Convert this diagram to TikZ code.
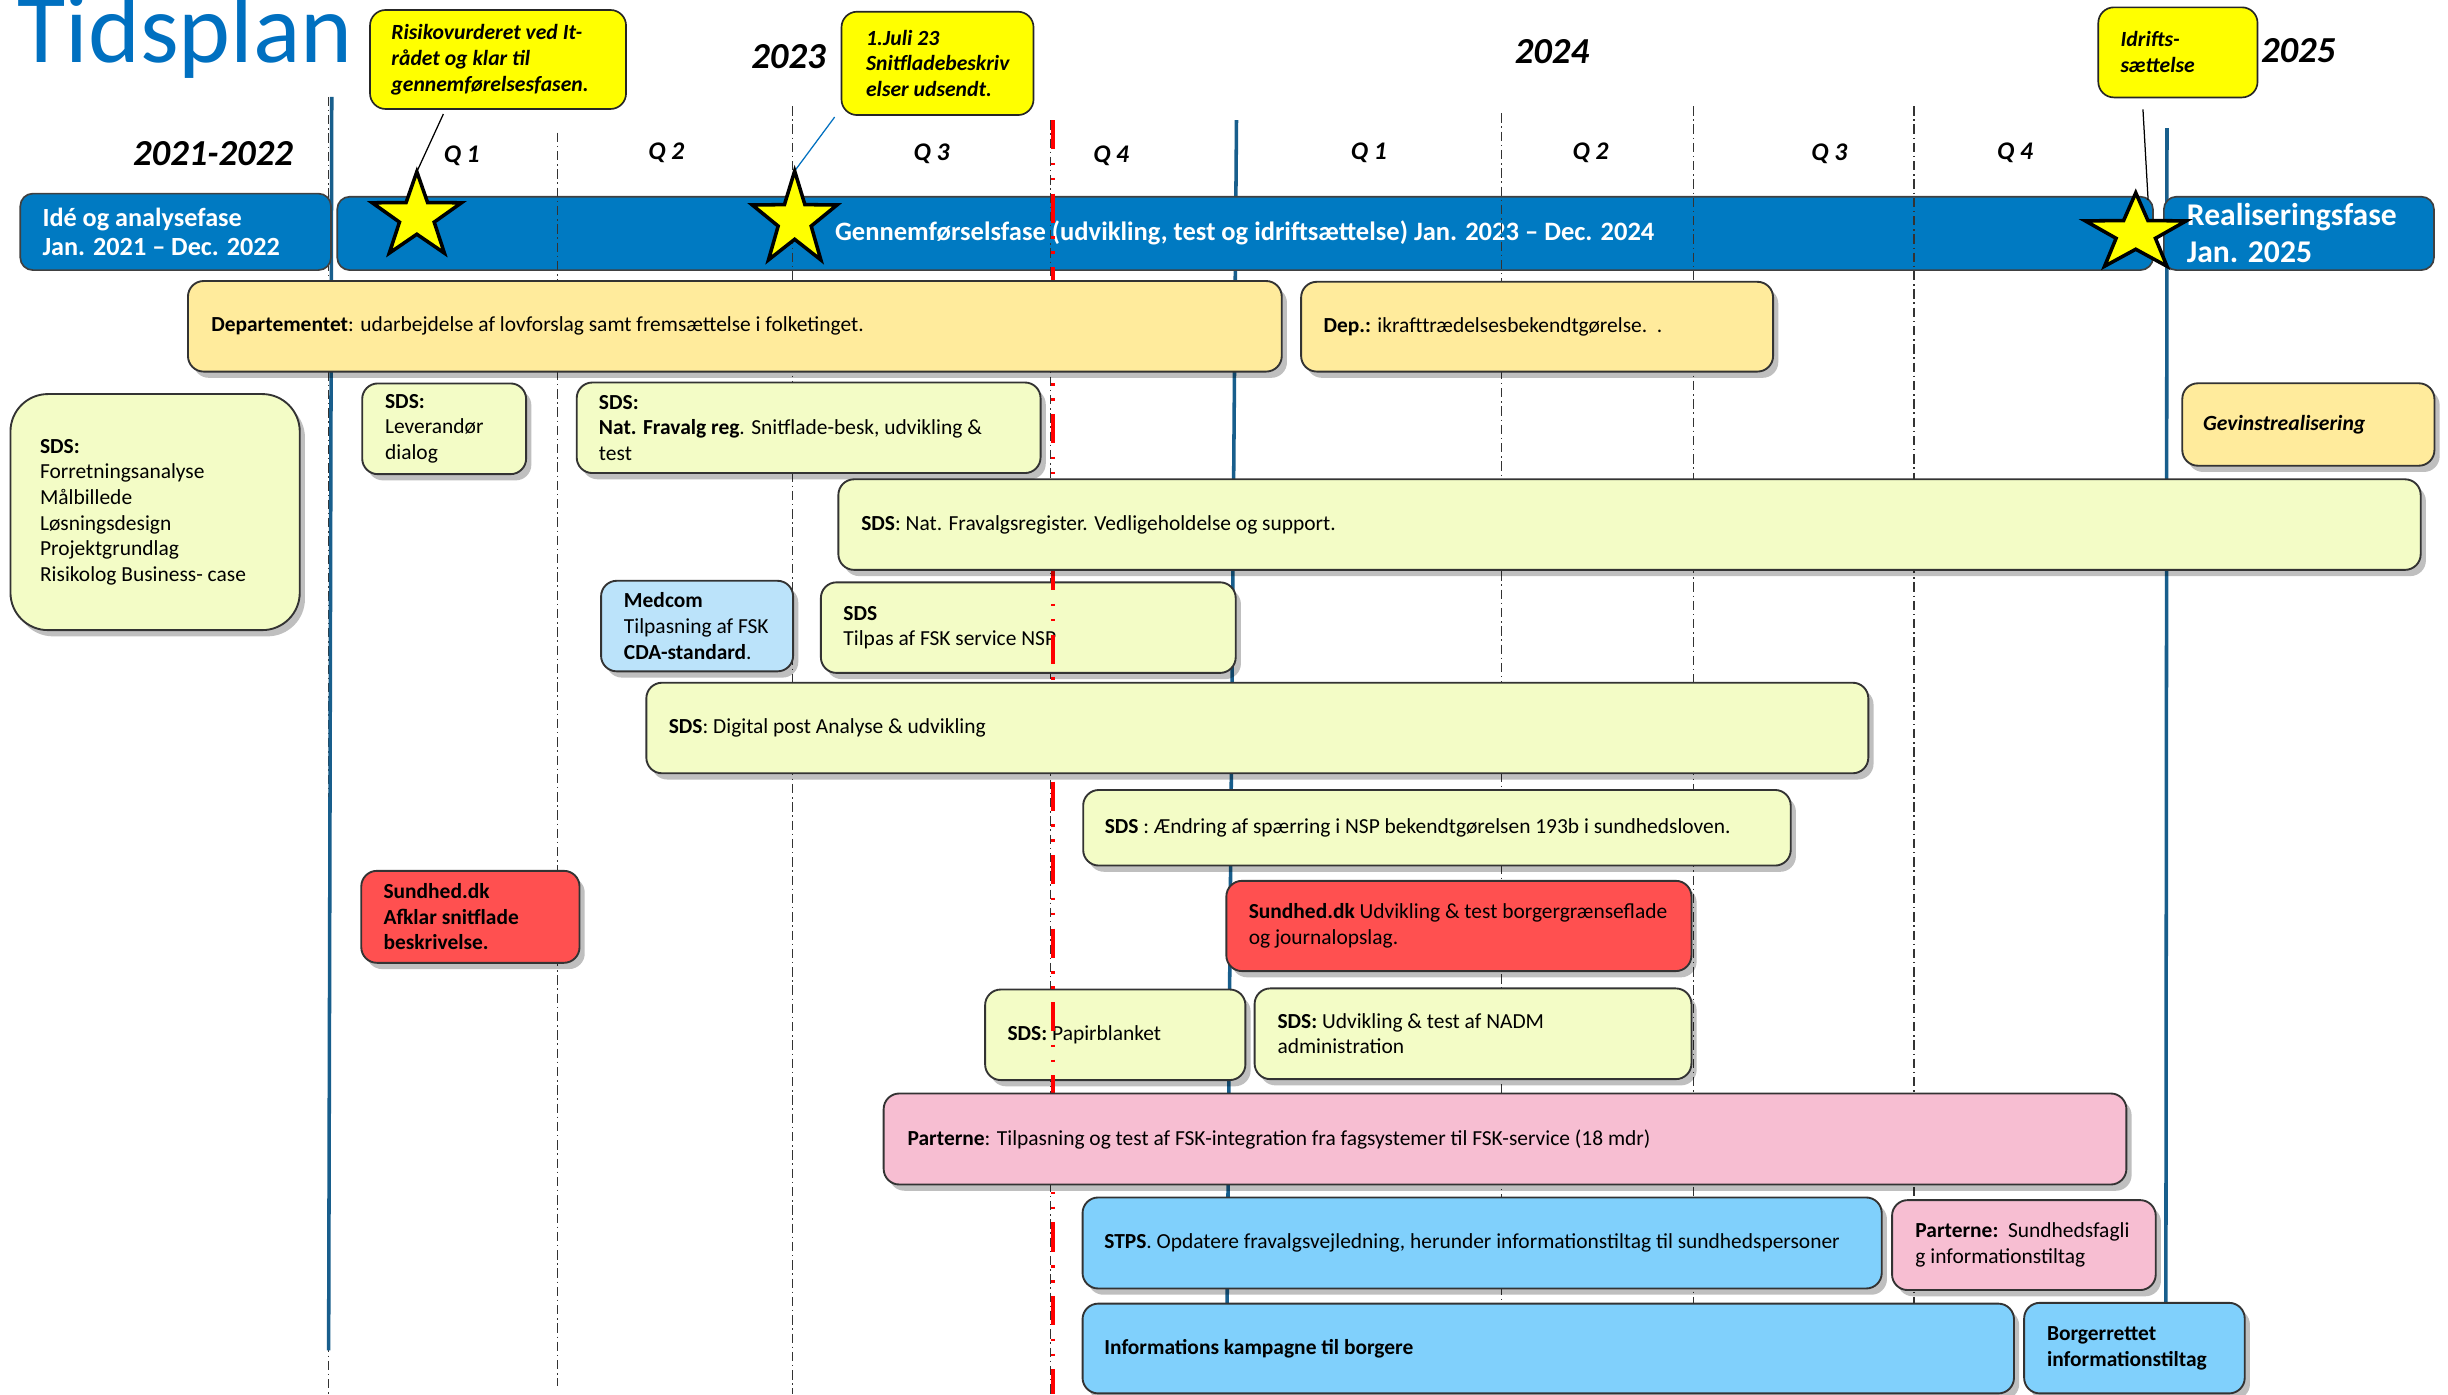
\documentclass[tikz,border=0pt]{standalone}
\usepackage{fontspec}
\setmainfont{Carlito}
\usetikzlibrary{shadows}
\definecolor{ttlblue}{RGB}{0,112,192}
\definecolor{phase}{RGB}{0,122,194}
\definecolor{vline}{RGB}{24,94,140}
\definecolor{depY}{RGB}{255,235,156}
\definecolor{sdsG}{RGB}{243,252,198}
\definecolor{medB}{RGB}{187,227,250}
\definecolor{redB}{RGB}{255,80,80}
\definecolor{pinkB}{RGB}{247,190,210}
\definecolor{skyB}{RGB}{128,208,252}
\definecolor{callY}{RGB}{255,255,0}
% name, box style, x1, y1, x2, y2, left padding, text style, text
\newcommand\abox[9]{%
  \node[#2, minimum width={(#5-#3)*0.75pt}, minimum height={(#6-#4)*0.75pt}] (#1) at ({(#3+#5)/2},{(#4+#6)/2}) {};
  \node[boxtext, #8, anchor=west] (#1-t) at ([xshift={#7*0.75pt}]#1.west) {#9};}
% name, cx, cy, rx(pt), ry(pt)
\newcommand\drawstar[5]{%
  \begin{scope}[shift={(#2,#3)}, x=#4, y=#5]
    \draw[starsty] (90:1) -- (126:0.39) -- (162:1) -- (198:0.39) -- (234:1) -- (270:0.39)
      -- (306:1) -- (342:0.39) -- (18:1) -- (54:0.39) -- cycle;
  \end{scope}}
\begin{document}
\begin{tikzpicture}[x=0.75pt,y=-0.75pt,
  boxtext/.style={align=left, inner sep=0pt, font=\fontsize{10.3}{12.3}\selectfont},
  actbox/.style={draw=black!80, line width=0.9pt, rounded corners=7.5pt, inner sep=0pt,
    drop shadow={shadow xshift=2.5pt, shadow yshift=-3pt, opacity=0.25, fill=black}},
  callout/.style={draw=black!85, line width=0.8pt, rounded corners=7.5pt, fill=callY, inner sep=0pt},
  phasebox/.style={draw=black!75, line width=0.8pt, rounded corners=6pt, fill=phase, inner sep=0pt},
  ddline/.style={draw=black!80, line width=0.6pt, dash pattern=on 4.5pt off 1.8pt on 0.7pt off 1.8pt},
  redline/.style={draw=red, line width=2pt, dash pattern=on 14pt off 6.5pt on 1.2pt off 6pt on 1.2pt off 6.4pt},
  bluev/.style={draw=vline, line width=1.7pt},
  yearlbl/.style={anchor=base west, inner sep=0pt, font=\fontsize{17.6}{20}\selectfont\bfseries\itshape},
  qlbl/.style={anchor=base west, inner sep=0pt, font=\fontsize{12.2}{14}\selectfont\bfseries\itshape},
  starsty/.style={fill=callY, draw=black, line width=1.7pt},
  callfont/.style={font=\fontsize{10.4}{12.4}\selectfont\bfseries\itshape},
  phasefont/.style={text=white, font=\fontsize{12.6}{14.25}\selectfont\bfseries},
  realfont/.style={text=white, font=\fontsize{15.2}{17.7}\selectfont\bfseries},
  conn/.style={draw=black, line width=0.6pt}
]
\useasboundingbox (0,0) rectangle (1568,893);
\fill[white] (0,0) rectangle (1568,893);

% dash-dot under the left blue line
\draw[ddline] (210.5,62) -- (210.5,893);
% blue verticals
\draw[bluev] (212.5,62) -- (210.5,865);
\draw[bluev] (792,77) -- (786,836);
\draw[bluev] (1388,82) -- (1387.3,834.5);

% phase boxes
\abox{ide}{phasebox}{13}{124}{212}{173}{14.5}{phasefont}{Idé og analysefase\\Jan. 2021 – Dec. 2022}
\node[phasebox, minimum width={(1379-216)*0.75pt}, minimum height={(173-126)*0.75pt}] (bar) at ({(216+1379)/2},{(126+173)/2}) {};
\node[anchor=base west, inner sep=0pt, text=white, font=\fontsize{12.75}{14}\selectfont\bfseries] (bartxt) at (534.6,154) {Gennemførselsfase (udvikling, test og idriftsættelse) Jan. 2023 – Dec. 2024};
\abox{real}{phasebox}{1386}{126}{1559}{173}{15}{realfont}{Realiseringsfase\\Jan. 2025}

% quarter dash-dot lines
\draw[ddline] (357,85) -- (357,888);
\draw[ddline] (507.7,68) -- (507.7,893);
\draw[ddline] (672.7,77) -- (672.7,893);
\draw[ddline] (961.5,72.6) -- (961.5,893);
\draw[ddline] (1084.5,68) -- (1084.5,893);
\draw[ddline] (1226,68) -- (1226,893);

% activity boxes (under the red line)
\abox{lev}{actbox, fill=sdsG}{232}{245.6}{337}{303.7}{15}{}{\textbf{SDS:}\\Leverandør\\dialog}
\abox{natfrav}{actbox, fill=sdsG}{369.4}{245}{666.5}{303}{14.6}{}{\textbf{SDS:}\\\textbf{Nat. Fravalg reg}. Snitflade-besk, udvikling \&\\test}
\abox{sdsleft}{actbox, fill=sdsG, rounded corners=18pt}{6.7}{252.4}{192}{403.6}{19.3}{}{\textbf{SDS:}\\Forretningsanalyse\\Målbillede\\Løsningsdesign\\Projektgrundlag\\Risikolog Business- case}
\abox{gevinst}{actbox, fill=depY}{1397.8}{245.5}{1559.3}{298.3}{13.7}{font=\fontsize{10.4}{12}\selectfont\bfseries\itshape}{Gevinstrealisering}
\abox{medcom}{actbox, fill=medB}{385}{372}{508}{430}{15}{}{\textbf{Medcom}\\Tilpasning af FSK\\\textbf{CDA-standard}.}
\abox{tilpas}{actbox, fill=sdsG}{525.8}{373}{791.5}{431}{14.8}{}{\textbf{SDS}\\Tilpas af FSK service NSP}
\abox{aendring}{actbox, fill=sdsG}{693.8}{506}{1147}{554.4}{14.2}{}{\textbf{SDS} : Ændring af spærring i NSP bekendtgørelsen 193b i sundhedsloven.}
\abox{sund1}{actbox, fill=redB}{231.4}{557.8}{371.2}{616.7}{14.6}{font=\fontsize{10.3}{12.3}\selectfont\bfseries}{Sundhed.dk\\Afklar snitflade\\beskrivelse.}
\abox{sund2}{actbox, fill=redB}{785.5}{564.2}{1083.4}{622}{14.7}{}{\textbf{Sundhed.dk} Udvikling \& test borgergrænseflade\\og journalopslag.}
\abox{papir}{actbox, fill=sdsG}{631}{633.8}{797.7}{691.8}{14.7}{}{\textbf{SDS:} Papirblanket}
\abox{nadm}{actbox, fill=sdsG}{803.6}{633.1}{1083.4}{691.2}{15}{}{\textbf{SDS:} Udvikling \& test af NADM\\administration}
\abox{stps}{actbox, fill=skyB}{693.4}{767}{1205.3}{825.3}{14.3}{}{\textbf{STPS}. Opdatere fravalgsvejledning, herunder informationstiltag til sundhedspersoner}
\abox{parterne2}{actbox, fill=pinkB}{1211.9}{768.7}{1380.8}{826.3}{15.3}{}{\textbf{Parterne:}\ \ Sundhedsfagli\\g informationstiltag}
\abox{info}{actbox, fill=skyB}{693.4}{835}{1290}{892.5}{14.3}{font=\fontsize{10.3}{12.3}\selectfont\bfseries}{Informations kampagne til borgere}
\abox{borger}{actbox, fill=skyB}{1296.5}{834.5}{1437.8}{892.5}{15}{font=\fontsize{10.3}{12.3}\selectfont\bfseries}{Borgerrettet\\informationstiltag}

% red line (today marker)
\draw[redline] (674.5,77) -- (674.5,893);

% activity boxes above the red line
\abox{dep}{actbox, fill=depY}{120.4}{180}{821}{238}{15.3}{}{\textbf{Departementet}: udarbejdelse af lovforslag samt fremsættelse i folketinget.}
\abox{dep2}{actbox, fill=depY}{833.4}{180.5}{1135.7}{238}{14.7}{}{\textbf{Dep.:} ikrafttrædelsesbekendtgørelse.\ \ .}
\abox{fravreg}{actbox, fill=sdsG}{537}{307}{1550.5}{365}{15}{}{\textbf{SDS}: Nat. Fravalgsregister. Vedligeholdelse og support.}
\abox{digpost}{actbox, fill=sdsG}{414}{437.3}{1196.7}{495.3}{14.7}{}{\textbf{SDS}: Digital post Analyse \& udvikling}
\abox{parterne}{actbox, fill=pinkB}{566}{700.4}{1362}{758.7}{15.7}{}{\textbf{Parterne}: Tilpasning og test af FSK-integration fra fagsystemer til FSK-service (18 mdr)}

% callouts
\abox{call1}{callout}{237}{6.4}{401}{69.8}{14}{callfont}{Risikovurderet ved It-\\rådet og klar til\\gennemførelsesfasen.}
\abox{call2}{callout}{539}{7.5}{662}{73.7}{16}{callfont}{1.Juli 23\\Snitfladebeskriv\\elser udsendt.}
\abox{call3}{callout}{1344}{4.7}{1446}{62.4}{14.6}{callfont}{Idrifts-\\sættelse}

% connectors from callouts to stars
\coordinate (c1tail) at (284,73);
\coordinate (s1top) at (267,110);
\coordinate (c2tail) at (534.6,75);
\coordinate (s2top) at (509,109.5);
\coordinate (c3tail) at (1372.6,70);
\coordinate (s3end) at (1375.9,128);
\draw[conn] (c1tail) -- (s1top);
\draw[conn, draw=ttlblue] (c2tail) -- (s2top);
\draw[conn] (c3tail) -- (s3end);

% stars
\drawstar{star1}{267}{138.8}{22.5pt}{21.6pt}
\drawstar{star2}{509}{141}{21.4pt}{23.6pt}
\drawstar{star3}{1368}{149.5}{25.5pt}{19.5pt}

% title and labels
\node[anchor=base west, inner sep=0pt, text=ttlblue, font=\fontsize{47.5}{50}\selectfont] (title) at (11,40) {Tidsplan};
\node[yearlbl] (y2122) at (85,105.7) {2021-2022};
\node[yearlbl] (y23) at (481,44) {2023};
\node[yearlbl] (y24) at (970,40.6) {2024};
\node[yearlbl] (y25) at (1448,40) {2025};
\node[qlbl] (q1a) at (284,104) {Q 1};
\node[qlbl] (q2a) at (415,102) {Q 2};
\node[qlbl] (q3a) at (585,102.5) {Q 3};
\node[qlbl] (q4a) at (700,104) {Q 4};
\node[qlbl] (q1b) at (865,102) {Q 1};
\node[qlbl] (q2b) at (1007,102) {Q 2};
\node[qlbl] (q3b) at (1160,103) {Q 3};
\node[qlbl] (q4b) at (1279,102) {Q 4};
\end{tikzpicture}
\end{document}
